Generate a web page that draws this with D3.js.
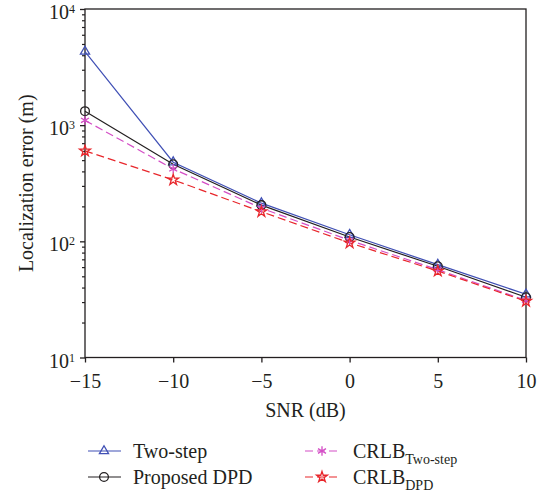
<!DOCTYPE html>
<html>
<head>
<meta charset="utf-8">
<script src="https://cdn.jsdelivr.net/npm/d3@7"></script>
<style>
  body { margin: 0; background: #fff; }
  text { font-family: "Liberation Serif", "DejaVu Serif", serif; fill: #231f20; }
</style>
</head>
<body>
<div id="canvas"></div>
<script>
var w = 551;
var h = 498;

// data
var snr = [-15, -10, -5, 0, 5, 10];
var twoStep = [4300, 480, 213, 114, 63, 35];
var proposedDPD = [1320, 460, 205, 109, 61, 33];
var crlbTwoStep = [1100, 420, 193, 102, 57, 31];
var crlbDPD = [600, 338, 180, 97, 55.5, 30.5];
var decades = [10, 100, 1000, 10000];
var decadeExp = ["1", "2", "3", "4"];

var pLeft = 85, pRight = 526, pTop = 9, pBottom = 357.5;

var svg = d3.select("#canvas").append("svg")
  .attr("width", w)
  .attr("height", h)
  .style("background-color", "white");

var xScale = d3.scaleLinear()
  .domain([-15, 10])
  .range([pLeft, pRight]);

var yScale = d3.scaleLog()
  .domain([10, 10000])
  .range([pBottom, pTop]);

// minor ticks 2..9 of every decade
var minor = [];
decades.slice(0, 3).forEach(function(d){
  for (var k = 2; k <= 9; k++) minor.push(d*k);
});

// frame
svg.append("rect")
  .attr("x", pLeft)
  .attr("y", pTop)
  .attr("width", pRight-pLeft)
  .attr("height", pBottom-pTop)
  .attr("fill", "none")
  .attr("stroke", "#231f20")
  .attr("stroke-width", 1.3);

// y axis: minor ticks
svg.append("g")
  .attr("transform", "translate(" + pLeft + ",0)")
  .call(d3.axisLeft(yScale).tickValues(minor).tickSize(3).tickSizeOuter(0).tickFormat(""))
  .call(function(g){ g.select(".domain").remove(); })
  .selectAll("line").attr("stroke", "#231f20").attr("stroke-width", 1.2);

// y axis: major ticks
svg.append("g")
  .attr("transform", "translate(" + pLeft + ",0)")
  .call(d3.axisLeft(yScale).tickValues(decades).tickSize(5).tickSizeOuter(0).tickFormat(""))
  .call(function(g){ g.select(".domain").remove(); })
  .selectAll("line").attr("stroke", "#231f20").attr("stroke-width", 1.3);

var yLabels = svg.selectAll(".ylab")
  .data(decades)
  .join("text")
  .attr("class", "ylab")
  .attr("x", pLeft-10)
  .attr("y", function(d){ return yScale(d) + 10; })
  .attr("text-anchor", "end")
  .style("font-size", "20px");
yLabels.append("tspan").text("10");
yLabels.append("tspan")
  .attr("dy", -6)
  .style("font-size", "12px")
  .text(function(d,i){ return decadeExp[i]; });

// x axis
var xAxis = svg.append("g")
  .attr("transform", "translate(0," + pBottom + ")")
  .call(d3.axisBottom(xScale).tickValues(snr).tickSize(5).tickSizeOuter(0)
    .tickFormat(function(d){ return d < 0 ? "\u2212" + Math.abs(d) : d; }));
xAxis.select(".domain").remove();
xAxis.selectAll("line").attr("stroke", "#231f20").attr("stroke-width", 1.3);
xAxis.selectAll("text")
  .attr("y", 30)
  .attr("dy", 0)
  .attr("fill", "#231f20")
  .style("font-family", "Liberation Serif")
  .style("font-size", "20px");

// axis titles
svg.append("text")
  .attr("x", (pLeft+pRight)/2)
  .attr("y", 417)
  .attr("text-anchor", "middle")
  .style("font-size", "20px")
  .text("SNR (dB)");

svg.append("text")
  .attr("transform", "translate(33," + (pTop+pBottom)/2 + ") rotate(-90)")
  .attr("text-anchor", "middle")
  .style("font-size", "20px")
  .text("Localization error (m)");

// series
var series = [
  { name: "Two-step", sub: "", values: twoStep, color: "#4050b5", dash: null, symbol: d3.symbolTriangle2, size: 60 },
  { name: "Proposed DPD", sub: "", values: proposedDPD, color: "#231f20", dash: null, symbol: d3.symbolCircle, size: 60 },
  { name: "CRLB", sub: "Two-step", values: crlbTwoStep, color: "#d44ec6", dash: "8,4", symbol: d3.symbolAsterisk, size: 60 },
  { name: "CRLB", sub: "DPD", values: crlbDPD, color: "#e8262b", dash: "8,4", symbol: d3.symbolStar, size: 36 }
];

var line = d3.line()
  .x(function(d,i){ return xScale(snr[i]); })
  .y(function(d){ return yScale(d); });

var plot = svg.append("g");

plot.selectAll(".series")
  .data(series)
  .join("path")
  .attr("class", "series")
  .attr("d", function(s){ return line(s.values); })
  .attr("fill", "none")
  .attr("stroke", function(s){ return s.color; })
  .attr("stroke-width", 1.2)
  .attr("stroke-dasharray", function(s){ return s.dash; });

series.forEach(function(s){
  plot.selectAll(null)
    .data(s.values)
    .join("path")
    .attr("transform", function(d,i){
      return "translate(" + xScale(snr[i]) + "," + yScale(d) + ")";
    })
    .attr("d", d3.symbol().type(s.symbol).size(s.size))
    .attr("fill", "none")
    .attr("stroke", s.color)
    .attr("stroke-width", 1.3);
});

// legend
var legendPos = [
  { lx: 88, mx: 104, tx: 133, y: 451 },
  { lx: 88, mx: 104, tx: 133, y: 477 },
  { lx: 305, mx: 322, tx: 353, y: 451 },
  { lx: 305, mx: 322, tx: 353, y: 477 }
];

var legend = svg.selectAll(".legend")
  .data(series)
  .join("g")
  .attr("class", "legend");

legend.append("line")
  .attr("x1", function(s,i){ return legendPos[i].lx; })
  .attr("x2", function(s,i){ return legendPos[i].lx + 33; })
  .attr("y1", function(s,i){ return legendPos[i].y; })
  .attr("y2", function(s,i){ return legendPos[i].y; })
  .attr("stroke", function(s){ return s.color; })
  .attr("stroke-width", 1.2)
  .attr("stroke-dasharray", function(s){ return s.dash; });

legend.append("path")
  .attr("transform", function(s,i){
    return "translate(" + legendPos[i].mx + "," + legendPos[i].y + ")";
  })
  .attr("d", function(s){ return d3.symbol().type(s.symbol).size(s.size)(); })
  .attr("fill", "none")
  .attr("stroke", function(s){ return s.color; })
  .attr("stroke-width", 1.3);

var legendText = legend.append("text")
  .attr("x", function(s,i){ return legendPos[i].tx; })
  .attr("y", function(s,i){ return legendPos[i].y + 7; })
  .style("font-size", "20px");
legendText.append("tspan").text(function(s){ return s.name; });
legendText.append("tspan")
  .attr("dy", 6)
  .style("font-size", "14px")
  .text(function(s){ return s.sub; });
</script>
</body>
</html>
